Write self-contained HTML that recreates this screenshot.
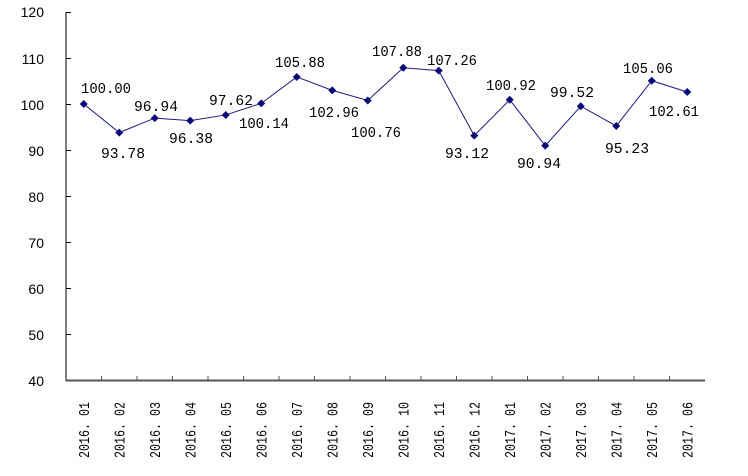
<!DOCTYPE html>
<html><head><style>body{margin:0;background:#fff}svg{display:block}</style></head><body>
<svg width="748" height="476" xmlns="http://www.w3.org/2000/svg">
<g font-family="Liberation Sans, sans-serif" font-size="14" fill="#000" text-anchor="end">
<text x="44" y="17">120</text><text x="44" y="64">110</text><text x="44" y="110">100</text>
<text x="44" y="156">90</text><text x="44" y="202">80</text><text x="44" y="248">70</text>
<text x="44" y="294">60</text><text x="44" y="340">50</text><text x="44" y="386">40</text>
</g>
<g stroke="#000" stroke-width="1">
<line x1="66" y1="12" x2="66" y2="381"/>
<line x1="66" y1="12.5" x2="71" y2="12.5"/><line x1="66" y1="58.5" x2="71" y2="58.5"/>
<line x1="66" y1="104.5" x2="71" y2="104.5"/><line x1="66" y1="150.5" x2="71" y2="150.5"/>
<line x1="66" y1="196.5" x2="71" y2="196.5"/><line x1="66" y1="242.5" x2="71" y2="242.5"/>
<line x1="66" y1="288.5" x2="71" y2="288.5"/><line x1="66" y1="334.5" x2="71" y2="334.5"/>
</g>
<line x1="66" y1="380.5" x2="705" y2="380.5" stroke="#555" stroke-width="2"/>
<g id="ticks" stroke="#555"></g>
<polyline id="line" fill="none" stroke="#1a1a80" stroke-width="1"/>
<g id="pts" fill="#0a0a78"></g>
<g id="lbl" font-family="Liberation Mono, monospace" font-size="15" text-anchor="middle"></g>
<g id="xl" font-family="Liberation Mono, monospace" font-size="15"></g>
<script>
var v=[100.00,93.78,96.94,96.38,97.62,100.14,105.88,102.96,100.76,107.88,107.26,93.12,100.92,90.94,99.52,95.23,105.06,102.61];
var L=[[106,88],[123,153],[156,106],[191,138],[231,100],[264,123],[300,62],[334,112],[376,132],[397,51],[452,60],[467,153],[511,85],[539,163],[572,92],[627,148],[648,68],[674,111]];
var n="http://www.w3.org/2000/svg",pts=[];
function el(t,a,p,tx){var e=document.createElementNS(n,t);for(var k in a)e.setAttribute(k,a[k]);if(tx)e.textContent=tx;document.getElementById(p).appendChild(e);}
for(var i=0;i<18;i++){var x=66+35.5*(i+0.5),y=380-(v[i]-40)*4.6;pts.push(x+","+y);
el("path",{d:"M"+x+" "+(y-4)+"L"+(x+4)+" "+y+"L"+x+" "+(y+4)+"L"+(x-4)+" "+y+"Z"},"pts");
el("text",{x:L[i][0],y:L[i][1]+5,textLength:(v[i]>=100?50:44),lengthAdjust:"spacingAndGlyphs"},"lbl",v[i].toFixed(2));
var tx=66+35.5*(i+1);if(i<17)el("line",{x1:tx,y1:376,x2:tx,y2:381},"ticks");
var yr=i<12?"2016":"2017",m=i<12?i+1:i-11;
el("text",{x:0,y:0,transform:"translate("+(x+5)+",458) rotate(-90)",textLength:56,lengthAdjust:"spacingAndGlyphs"},"xl",yr+". "+(m<10?"0"+m:m));}
document.getElementById("line").setAttribute("points",pts.join(" "));
</script>
</svg>
</body></html>
